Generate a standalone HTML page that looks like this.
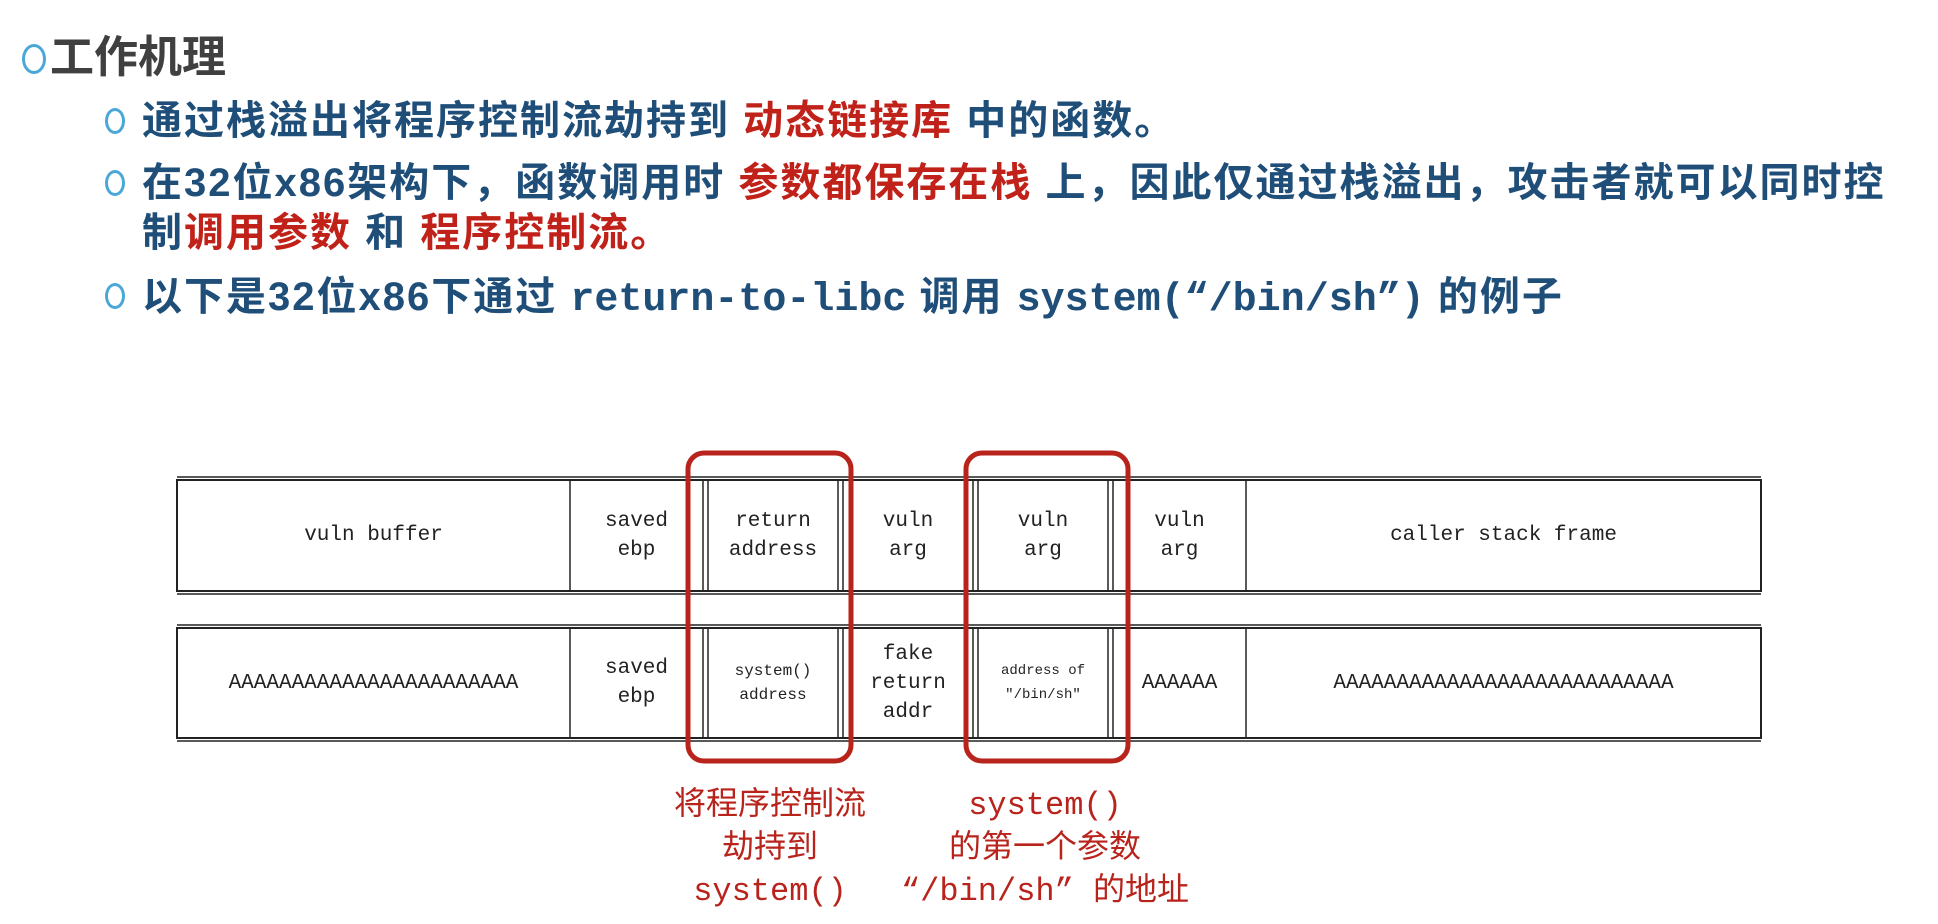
<!DOCTYPE html>
<html><head><meta charset="utf-8"><style>
body{margin:0;width:1938px;height:924px;background:#fff;position:relative;overflow:hidden;font-family:"Liberation Sans","Noto Sans CJK SC",sans-serif}
.t{position:absolute;white-space:nowrap;font-weight:bold;line-height:1}
.b{color:#1f4e79;font-size:40px;letter-spacing:2px}
.r{color:#c0221a}
.m{font-family:"Liberation Mono","Noto Sans CJK SC",monospace;font-weight:bold;letter-spacing:0}
.bul{position:absolute;border:3px solid #4aa8d8;border-radius:50%;box-sizing:border-box}
.cell{position:absolute;display:flex;align-items:center;justify-content:center;text-align:center;font-family:"Liberation Mono","DejaVu Sans Mono",monospace;font-size:21px;color:#222;line-height:29px}
.lab{position:absolute;color:#b8231b;font-family:"Liberation Mono","Noto Sans CJK SC",monospace;font-size:32px;text-align:center;white-space:nowrap;line-height:43px}
</style></head><body>
<div class="bul" style="left:22px;top:44px;width:24px;height:30px"></div>
<div class="t" style="left:50px;top:36px;font-size:44px;color:#404040">工作机理</div>

<div class="bul" style="left:105px;top:108px;width:20px;height:26px"></div>
<div class="t b" style="left:142px;top:101px">通过栈溢出将程序控制流劫持到 <span class="r">动态链接库</span> 中的函数。</div>

<div class="bul" style="left:105px;top:170px;width:20px;height:26px"></div>
<div class="t b" style="left:142px;top:163px">在32位x86架构下，函数调用时 <span class="r">参数都保存在栈</span> 上，因此仅通过栈溢出，攻击者就可以同时控</div>
<div class="t b" style="left:142px;top:213px">制<span class="r">调用参数</span> 和 <span class="r">程序控制流。</span></div>

<div class="bul" style="left:105px;top:283px;width:20px;height:26px"></div>
<div class="t b" style="left:142px;top:277px">以下是32位x86下通过 <span class="m">return-to-libc</span> 调用 <span class="m">system(“/bin/sh”)</span> 的例子</div>

<svg style="position:absolute;left:0;top:0" width="1938" height="924">
<g stroke="#222" fill="none">
<rect x="177" y="480" width="1584" height="111" stroke-width="2"/>
<line x1="177" y1="477" x2="1761" y2="477" stroke-width="1.5"/>
<line x1="177" y1="594" x2="1761" y2="594" stroke-width="1.5"/>
<rect x="177" y="628" width="1584" height="110" stroke-width="2"/>
<line x1="177" y1="625" x2="1761" y2="625" stroke-width="1.5"/>
<line x1="177" y1="741" x2="1761" y2="741" stroke-width="1.5"/>
<g stroke-width="1.5">
<line x1="570" y1="480" x2="570" y2="591"/><line x1="570" y1="628" x2="570" y2="738"/>
<line x1="703" y1="480" x2="703" y2="591"/><line x1="708" y1="480" x2="708" y2="591"/>
<line x1="703" y1="628" x2="703" y2="738"/><line x1="708" y1="628" x2="708" y2="738"/>
<line x1="838" y1="480" x2="838" y2="591"/><line x1="843" y1="480" x2="843" y2="591"/>
<line x1="838" y1="628" x2="838" y2="738"/><line x1="843" y1="628" x2="843" y2="738"/>
<line x1="973" y1="480" x2="973" y2="591"/><line x1="978" y1="480" x2="978" y2="591"/>
<line x1="973" y1="628" x2="973" y2="738"/><line x1="978" y1="628" x2="978" y2="738"/>
<line x1="1108" y1="480" x2="1108" y2="591"/><line x1="1113" y1="480" x2="1113" y2="591"/>
<line x1="1108" y1="628" x2="1108" y2="738"/><line x1="1113" y1="628" x2="1113" y2="738"/>
<line x1="1246" y1="480" x2="1246" y2="591"/><line x1="1246" y1="628" x2="1246" y2="738"/>
</g></g>
<g stroke="#b8231b" stroke-width="5" fill="none">
<rect x="688" y="453" width="163" height="308" rx="16"/>
<rect x="966" y="453" width="162" height="308" rx="16"/>
</g>
</svg>

<div class="cell" style="left:177px;top:480px;width:393px;height:111px">vuln buffer</div>
<div class="cell" style="left:570px;top:480px;width:133px;height:111px">saved<br>ebp</div>
<div class="cell" style="left:708px;top:480px;width:130px;height:111px">return<br>address</div>
<div class="cell" style="left:843px;top:480px;width:130px;height:111px">vuln<br>arg</div>
<div class="cell" style="left:978px;top:480px;width:130px;height:111px">vuln<br>arg</div>
<div class="cell" style="left:1113px;top:480px;width:133px;height:111px">vuln<br>arg</div>
<div class="cell" style="left:1246px;top:480px;width:515px;height:111px">caller stack frame</div>

<div class="cell" style="left:177px;top:628px;width:393px;height:110px">AAAAAAAAAAAAAAAAAAAAAAA</div>
<div class="cell" style="left:570px;top:628px;width:133px;height:110px">saved<br>ebp</div>
<div class="cell" style="left:708px;top:628px;width:130px;height:110px;font-size:16px;line-height:24px">system()<br>address</div>
<div class="cell" style="left:843px;top:628px;width:130px;height:110px">fake<br>return<br>addr</div>
<div class="cell" style="left:978px;top:628px;width:130px;height:110px;font-size:14px;line-height:24px">address of<br>"/bin/sh"</div>
<div class="cell" style="left:1113px;top:628px;width:133px;height:110px">AAAAAA</div>
<div class="cell" style="left:1246px;top:628px;width:515px;height:110px">AAAAAAAAAAAAAAAAAAAAAAAAAAA</div>

<div class="lab" style="left:620px;top:784px;width:300px">将程序控制流<br>劫持到<br>system()</div>
<div class="lab" style="left:870px;top:784px;width:350px">system()<br>的第一个参数<br>“/bin/sh” 的地址</div>
</body></html>
